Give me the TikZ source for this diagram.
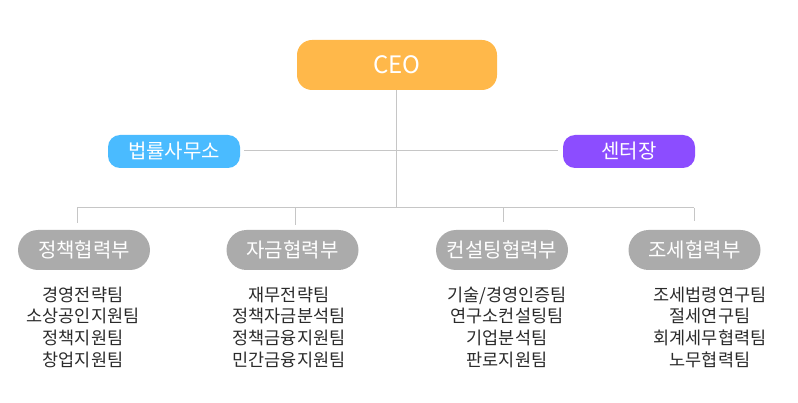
\documentclass[tikz,border=0pt]{standalone}
\usepackage{fontspec}
\setmainfont{Noto Sans CJK KR}
\definecolor{ceoc}{HTML}{FFB84A}
\definecolor{lawc}{HTML}{4ABBFF}
\definecolor{cenc}{HTML}{8C4DFF}
\definecolor{depc}{HTML}{ABABAB}
\definecolor{linec}{HTML}{C6C6C6}
\definecolor{txtc}{HTML}{2B2B2B}
\begin{document}
\begin{tikzpicture}[x=1pt,y=-1pt,
  boxbase/.style={rounded corners=15pt, text=white, inner sep=0pt, align=center},
  ceobox/.style={boxbase, fill=ceoc, minimum width=200pt, minimum height=50pt, font=\fontsize{24}{28}\selectfont},
  sidebox/.style={boxbase, rounded corners=12pt, minimum width=132pt, minimum height=33pt, font=\fontsize{20}{24}\selectfont},
  depbox/.style={boxbase, rounded corners=20pt, fill=depc, minimum width=132pt, minimum height=40pt, font=\fontsize{20}{24}\selectfont},
  teamlist/.style={text=txtc, align=center, inner sep=0pt, anchor=north, font=\fontsize{17.5}{21.7}\selectfont},
  conn/.style={draw=linec, line width=1pt}]
\useasboundingbox (0,0) rectangle (798,403);
\node[ceobox] (ceo) at (397,65) {CEO};
\node[sidebox, fill=lawc] (law) at (174,151.5) {법률사무소};
\node[sidebox, fill=cenc] (cen) at (629,151.5) {센터장};
\node[depbox] (d1) at (84,250) {정책협력부};
\node[depbox] (d2) at (292.5,250) {자금협력부};
\node[depbox] (d3) at (502,250) {컨설팅협력부};
\node[depbox] (d4) at (694.5,250) {조세협력부};
\coordinate (bus) at (396,208);
\coordinate (l1) at (244,151);
\coordinate (r1) at (558,151);
\coordinate (b1) at (77,208);
\coordinate (b2) at (295,208);
\coordinate (b3) at (503,208);
\coordinate (b4) at (694,208);
\coordinate (e1) at (77,223);
\coordinate (e2) at (295,225);
\coordinate (e3) at (503,222);
\coordinate (e4) at (694,221);
\draw[conn] (ceo.south -| bus) -- (bus);
\draw[conn] (l1) -- (r1);
\draw[conn] (b1) -- (b4);
\draw[conn] (b1) -- (e1);
\draw[conn] (b2) -- (e2);
\draw[conn] (b3) -- (e3);
\draw[conn] (b4) -- (e4);
\node[teamlist] (t1) at (83,286.5) {경영전략팀\\소상공인지원팀\\정책지원팀\\창업지원팀};
\node[teamlist] (t2) at (289,286.5) {재무전략팀\\정책자금분석팀\\정책금융지원팀\\민간금융지원팀};
\node[teamlist] (t3) at (507,286.5) {기술/경영인증팀\\연구소컨설팅팀\\기업분석팀\\판로지원팀};
\node[teamlist] (t4) at (710,286.5) {조세법령연구팀\\절세연구팀\\회계세무협력팀\\노무협력팀};
\end{tikzpicture}
\end{document}
